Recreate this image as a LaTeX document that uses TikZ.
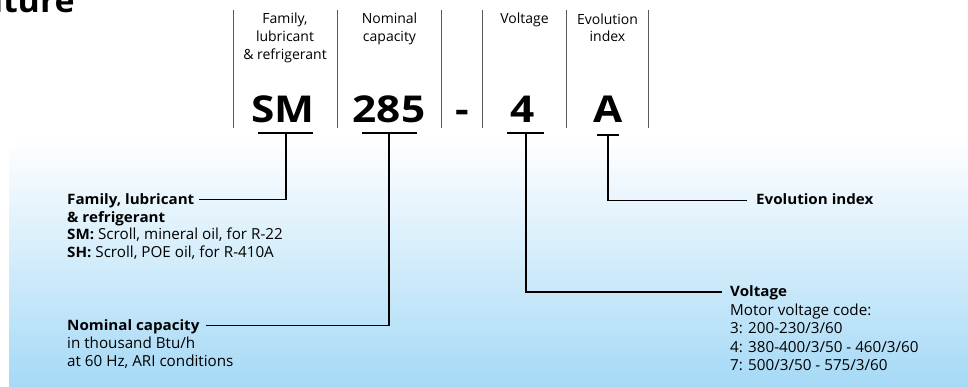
\documentclass[tikz,border=0pt]{standalone}
\usepackage{fontspec}
\setmainfont{Open Sans}[BoldFeatures={FakeStretch=1.06}]
\usetikzlibrary{calc}
\definecolor{bgblue}{RGB}{165,217,246}
\definecolor{sepgray}{RGB}{90,90,90}
\tikzset{
  hdr/.style={font=\fontsize{14}{18}\selectfont, anchor=base, inner sep=0pt},
  codetxt/.style={font=\fontsize{37}{40}\selectfont\bfseries, anchor=base, inner sep=0pt},
  sepline/.style={draw=sepgray, line width=0.8pt},
  conn/.style={draw=black, line width=1.2pt},
  lbl/.style={font=\fontsize{15.2}{18}\selectfont, anchor=base west, inner sep=0pt},
  lblb/.style={font=\fontsize{14.3}{18}\selectfont\bfseries, anchor=base west, inner sep=0pt},
}
\newcommand{\widecode}[1]{\scalebox{1.08}[1]{#1}}
\newcommand{\lead}[1]{{\fontsize{14.3}{18}\selectfont\bfseries #1}}
\begin{document}
\begin{tikzpicture}[x=1pt,y=-1pt]
\useasboundingbox (0,0) rectangle (968,387);
\clip (0,0) rectangle (968,387);
% background gradient
\shade[top color=white, bottom color=bgblue] (9,138) rectangle (968,387);
% title fragment
\node[font=\fontsize{32}{34}\selectfont\bfseries, anchor=base east, inner sep=0pt] (title) at (75,13) {ature};
% separators
\foreach \x/\n in {233/s1,337.3/s2,441.3/s3,482.7/s4,566.7/s5,648.3/s6}{
  \coordinate (\n t) at (\x,10);
  \coordinate (\n b) at (\x,128);
  \draw[sepline] (\n t) -- (\n b);
}
% headers
\node[hdr] (hF1) at (285,24) {Family,};
\node[hdr] (hF2) at (285,42) {lubricant};
\node[hdr] (hF3) at (285,60) {\& refrigerant};
\node[hdr] (hN1) at (389.5,24) {Nominal};
\node[hdr] (hN2) at (389.5,42) {capacity};
\node[hdr] (hV1) at (524.5,24) {Voltage};
\node[hdr] (hE1) at (607.5,25) {Evolution};
\node[hdr] (hE2) at (607.5,42) {index};
% codes
\node[codetxt] (cSM) at (283,123) {\widecode{SM}};
\node[codetxt] (c285) at (389,123) {\widecode{285}};
\node[codetxt] (cDash) at (462,123) {\widecode{-}};
\node[codetxt] (c4) at (523,123) {\widecode{4}};
\node[codetxt] (cA) at (608,123) {\widecode{A}};
% bars
\coordinate (smL) at (258,133); \coordinate (smR) at (313,133); \coordinate (smM) at (286,133);
\coordinate (nL) at (362,133); \coordinate (nR) at (417,133); \coordinate (nM) at (389,133);
\coordinate (vL) at (507,133); \coordinate (vR) at (544,133); \coordinate (vM) at (526,133);
\coordinate (eL) at (597,135); \coordinate (eR) at (619,135); \coordinate (eM) at (608,135);
\draw[conn] (smL) -- (smR);
\draw[conn] (nL) -- (nR);
\draw[conn] (vL) -- (vR);
\draw[conn] (eL) -- (eR);
% family block
\node[lblb] (famT) at (67,204.3) {Family, lubricant};
\node[lblb] (famT2) at (67,222.3) {\& refrigerant};
\node[lbl] (famSM) at (67,240) {\lead{SM:} Scroll, mineral oil, for R-22};
\node[lbl] (famSH) at (67,257.7) {\lead{SH:} Scroll, POE oil, for R-410A};
% nominal block
\node[lblb] (nomT) at (67,330) {Nominal capacity};
\node[lbl] (nom2) at (67,348.3) {in thousand Btu/h};
\node[lbl] (nom3) at (67,366) {at 60 Hz, ARI conditions};
% voltage block
\node[lblb] (volT) at (730,296.7) {Voltage};
\node[lbl] (vol2) at (730,315) {Motor voltage code:};
\node[lbl] (vol3) at (730,333.5) {3: 200-230/3/60};
\node[lbl] (vol4) at (730,352) {4: 380-400/3/50 - 460/3/60};
\node[lbl] (vol5) at (730,370) {7: 500/3/50 - 575/3/60};
% evolution block
\node[lblb] (evoT) at (756,204.3) {Evolution index};
% connectors
\draw[conn] (smM) |- ($(famT.base east)+(4,-5)$);
\draw[conn] (nM) |- ($(nomT.base east)+(6,-4.5)$);
\draw[conn] (vM) |- ($(volT.base west)+(-8,-4.7)$);
\draw[conn] (eM) |- ($(evoT.base west)+(-9,-3.5)$);
\end{tikzpicture}
\end{document}
